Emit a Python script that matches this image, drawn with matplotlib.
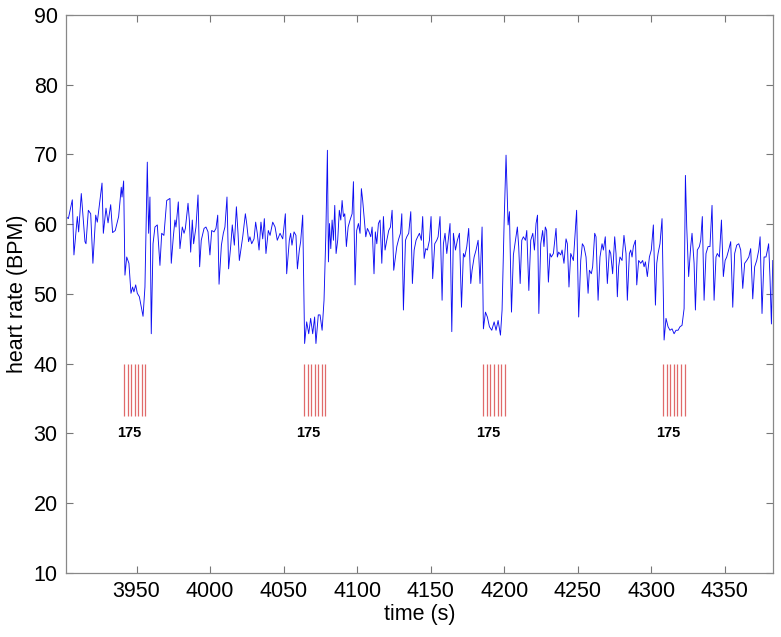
import numpy as np
import matplotlib
matplotlib.use("Agg")
import matplotlib.pyplot as plt

plt.rcParams['font.family'] = ['Liberation Sans', 'DejaVu Sans']

# heart rate trace (time in s, rate in BPM)
time_s = [
    3902.0, 3903.6, 3906.3, 3907.4, 3909.7, 3910.6, 3912.4, 3914.9, 3915.6, 3917.2,
    3918.8, 3920.3, 3922.2, 3923.3, 3926.5, 3927.4, 3929.2, 3930.6, 3932.4, 3933.7,
    3935.5, 3937.8, 3939.6, 3940.1, 3941.2, 3942.1, 3943.3, 3944.8, 3946.2, 3947.3,
    3948.2, 3949.4, 3950.5, 3951.9, 3954.4, 3955.7, 3957.3, 3958.2, 3959.1, 3960.0,
    3961.2, 3962.5, 3964.1, 3965.9, 3967.1, 3968.6, 3970.5, 3972.7, 3973.6, 3975.0,
    3976.1, 3976.8, 3978.4, 3979.5, 3981.1, 3982.3, 3983.2, 3985.0, 3985.9, 3986.8,
    3987.9, 3988.8, 3990.4, 3991.8, 3992.9, 3994.0, 3995.9, 3997.2, 3998.6, 3999.9,
    4001.1, 4002.7, 4004.0, 4005.2, 4006.1, 4007.7, 4009.0, 4010.1, 4011.5, 4012.6,
    4014.0, 4015.1, 4016.5, 4017.9, 4019.0, 4019.9, 4021.5, 4022.2, 4024.0, 4024.9,
    4026.2, 4027.1, 4028.3, 4029.9, 4031.0, 4032.1, 4033.3, 4034.6, 4035.8, 4036.9,
    4038.0, 4039.6, 4040.8, 4042.6, 4044.2, 4045.7, 4047.6, 4049.4, 4051.2, 4052.1,
    4053.9, 4054.8, 4055.7, 4057.1, 4058.4, 4059.4, 4060.7, 4061.6, 4063.0, 4064.3,
    4065.7, 4067.1, 4068.4, 4069.8, 4071.1, 4072.0, 4073.6, 4074.8, 4076.2, 4077.5,
    4078.7, 4079.8, 4080.5, 4081.2, 4082.1, 4083.0, 4083.9, 4084.8, 4085.7, 4086.8,
    4087.9, 4088.9, 4089.8, 4090.7, 4091.6, 4092.7, 4093.9, 4095.2, 4096.6, 4097.5,
    4098.6, 4099.7, 4100.9, 4102.0, 4102.9, 4103.8, 4104.7, 4105.9, 4107.0, 4108.1,
    4109.3, 4110.2, 4111.5, 4112.4, 4113.4, 4114.5, 4115.6, 4116.8, 4117.9, 4119.0,
    4120.2, 4121.5, 4122.7, 4123.8, 4124.9, 4126.1, 4127.0, 4128.3, 4129.5, 4130.4,
    4131.5, 4132.9, 4133.8, 4135.1, 4136.5, 4137.6, 4138.8, 4140.1, 4141.2, 4142.4,
    4143.7, 4144.6, 4145.6, 4146.7, 4147.8, 4149.2, 4150.3, 4151.4, 4152.8, 4154.2,
    4155.1, 4156.4, 4157.8, 4158.7, 4159.8, 4161.0, 4162.1, 4163.2, 4164.4, 4165.5,
    4166.9, 4168.2, 4169.6, 4171.0, 4172.3, 4173.2, 4174.6, 4175.9, 4177.3, 4178.2,
    4179.6, 4180.9, 4182.3, 4183.6, 4185.0, 4185.9, 4187.3, 4188.6, 4190.0, 4191.6,
    4193.2, 4194.5, 4195.9, 4197.5, 4198.6, 4200.0, 4201.3, 4202.7, 4203.6, 4205.0,
    4206.3, 4207.7, 4209.0, 4209.9, 4210.9, 4212.0, 4213.1, 4214.5, 4215.4, 4216.8,
    4218.1, 4219.5, 4220.6, 4221.7, 4222.7, 4223.6, 4224.9, 4226.2, 4227.1, 4228.0,
    4228.9, 4230.1, 4231.2, 4232.1, 4233.5, 4235.3, 4236.2, 4237.1, 4238.5, 4239.4,
    4240.7, 4242.1, 4243.0, 4244.1, 4245.3, 4246.2, 4247.1, 4248.0, 4249.3, 4250.7,
    4252.1, 4253.2, 4254.3, 4255.7, 4257.1, 4258.0, 4259.3, 4260.2, 4261.6, 4262.5,
    4263.9, 4265.2, 4266.6, 4267.5, 4268.8, 4270.2, 4271.6, 4272.5, 4273.8, 4275.2,
    4276.1, 4277.0, 4277.9, 4278.8, 4280.2, 4281.5, 4282.9, 4283.8, 4285.2, 4286.1,
    4287.0, 4287.9, 4289.3, 4290.2, 4291.5, 4292.9, 4294.2, 4295.2, 4296.1, 4297.4,
    4298.8, 4300.1, 4301.5, 4302.9, 4303.8, 4304.7, 4306.0, 4307.4, 4308.8, 4310.1,
    4311.5, 4312.8, 4314.2, 4315.6, 4316.9, 4318.3, 4319.6, 4321.0, 4322.4, 4323.3,
    4324.2, 4325.5, 4326.9, 4327.8, 4329.2, 4330.1, 4331.4, 4332.8, 4333.7, 4334.8,
    4336.0, 4337.3, 4338.7, 4340.0, 4341.4, 4342.8, 4344.1, 4345.0, 4346.4, 4347.8,
    4349.1, 4350.3, 4351.4, 4352.7, 4354.1, 4355.5, 4356.8, 4358.2, 4359.6, 4360.9,
    4362.3, 4363.6, 4365.0, 4366.4, 4367.7, 4369.1, 4370.4, 4371.8, 4373.2, 4374.1,
    4375.4, 4376.8, 4378.1, 4379.1, 4379.9, 4380.8, 4381.8, 4382.7,
]
heart_rate = [
    61.1, 60.8, 63.5, 55.6, 61.1, 58.9, 64.4, 57.5, 57.2, 62.0,
    61.5, 54.4, 61.3, 60.3, 65.9, 58.7, 62.3, 60.2, 62.8, 58.8,
    59.1, 61.1, 65.3, 63.9, 66.2, 52.7, 55.3, 54.4, 50.1, 51.0,
    50.3, 51.3, 50.1, 49.6, 46.8, 51.0, 68.9, 58.7, 63.9, 44.3,
    57.2, 59.6, 59.9, 54.1, 58.7, 58.4, 63.4, 63.7, 54.4, 58.2,
    60.6, 59.6, 63.2, 56.5, 59.6, 58.7, 59.4, 63.0, 60.6, 56.0,
    60.6, 57.2, 59.6, 64.2, 53.9, 57.7, 59.4, 59.6, 58.9, 55.6,
    59.1, 58.9, 59.4, 61.3, 51.4, 57.0, 58.7, 59.6, 63.9, 53.6,
    56.8, 59.9, 57.0, 62.5, 58.7, 54.8, 57.2, 58.2, 61.5, 60.1,
    57.5, 58.2, 57.2, 57.9, 60.3, 58.7, 56.3, 60.3, 57.9, 60.8,
    55.8, 59.1, 58.4, 60.3, 59.6, 57.7, 58.7, 57.9, 61.5, 52.9,
    57.7, 58.7, 57.0, 58.9, 58.4, 53.6, 56.3, 57.5, 61.3, 42.9,
    46.0, 44.3, 46.5, 44.3, 46.7, 42.9, 47.0, 47.0, 44.8, 49.1,
    58.2, 70.6, 54.6, 60.1, 56.5, 60.6, 57.7, 62.7, 55.8, 57.7,
    62.0, 60.6, 63.4, 61.1, 61.5, 56.8, 59.6, 60.6, 61.5, 66.1,
    51.3, 59.1, 60.1, 58.7, 65.1, 63.4, 61.1, 58.2, 59.4, 58.9,
    58.2, 59.6, 52.9, 58.9, 57.2, 60.1, 60.6, 54.4, 61.1, 56.3,
    57.7, 59.1, 59.6, 62.0, 53.4, 55.3, 56.8, 57.9, 58.7, 61.5,
    47.7, 57.7, 58.2, 58.7, 61.8, 51.5, 56.3, 57.7, 58.2, 58.7,
    57.7, 61.1, 55.1, 56.5, 56.3, 57.7, 61.1, 52.2, 57.2, 57.7,
    58.2, 61.1, 49.1, 57.2, 58.7, 55.8, 57.9, 60.1, 44.6, 58.7,
    56.3, 57.7, 58.7, 48.1, 55.8, 55.3, 56.8, 59.4, 51.5, 53.4,
    55.3, 56.3, 57.7, 51.5, 59.6, 45.0, 47.4, 46.7, 45.3, 44.8,
    46.0, 44.8, 46.2, 44.1, 47.7, 60.3, 69.9, 59.9, 61.8, 47.4,
    55.6, 57.7, 59.6, 56.8, 51.5, 57.7, 58.2, 57.7, 59.1, 50.5,
    57.7, 58.7, 56.3, 60.1, 61.3, 47.2, 57.2, 59.1, 56.8, 59.6,
    59.1, 51.7, 55.8, 55.3, 55.8, 59.4, 55.3, 56.0, 55.6, 56.3,
    54.4, 57.9, 57.2, 51.0, 55.8, 55.3, 54.8, 57.7, 62.0, 46.7,
    54.8, 57.2, 56.8, 55.3, 50.1, 53.4, 52.9, 53.9, 58.7, 58.2,
    49.1, 55.3, 57.2, 56.3, 58.2, 51.5, 56.3, 55.8, 52.9, 58.2,
    55.8, 49.6, 53.9, 55.3, 54.8, 58.4, 55.8, 49.1, 55.8, 56.3,
    55.3, 56.8, 57.7, 51.3, 54.8, 54.4, 54.8, 53.9, 54.6, 52.5,
    55.3, 56.3, 59.9, 48.4, 54.4, 55.8, 57.2, 60.8, 43.4, 46.5,
    45.3, 44.8, 45.0, 44.3, 44.8, 44.8, 45.3, 45.5, 47.9, 67.0,
    59.6, 52.5, 56.8, 58.7, 54.4, 47.7, 56.3, 56.8, 57.7, 61.1,
    49.1, 55.8, 56.8, 56.8, 62.7, 49.1, 55.3, 55.8, 55.3, 60.6,
    52.5, 54.8, 55.3, 56.3, 57.5, 48.1, 55.8, 57.0, 57.2, 56.3,
    50.8, 54.4, 54.8, 55.3, 56.5, 49.3, 53.9, 54.8, 56.3, 58.2,
    47.2, 55.3, 55.3, 56.3, 57.2, 52.5, 45.7, 54.8,
]

# stimulus trains: start of each train, 7 pulses
train_starts = [3941.5, 4063.9, 4185.9, 4308.3]
pulse_step = 2.4
n_pulses = 7
train_label = "175"

xticks = [3950, 4000, 4050, 4100, 4150, 4200, 4250, 4300, 4350]
yticks = [10, 20, 30, 40, 50, 60, 70, 80, 90]

fig = plt.figure(figsize=(7.81, 6.37), dpi=100)
ax = fig.add_axes([0.0845, 0.1005, 0.9055, 0.876])

ax.plot(time_s, heart_rate, color=(0.05, 0.05, 0.95), lw=0.65)

for t0 in train_starts:
    pulses = t0 + pulse_step * np.arange(n_pulses)
    ax.vlines(pulses, 32.5, 40, colors='#e06a6a', lw=0.9)
    ax.text(t0 + 3.2, 30, train_label, ha='center', va='center',
            fontsize=10.5, fontweight='bold')

ax.set_xlim(3902, 4383)
ax.set_ylim(10, 90)
ax.set_xticks(xticks)
ax.set_yticks(yticks)
ax.tick_params(direction='in', length=5, width=0.8, color='#777777',
               labelsize=15.5, top=True, right=True, pad=6)
for sp in ax.spines.values():
    sp.set_color('#888888')
    sp.set_linewidth(0.9)

ax.set_xlabel("time (s)", fontsize=15.5, labelpad=1)
ax.set_ylabel("heart rate (BPM)", fontsize=15.5, labelpad=4)

fig.savefig("out.png", dpi=100)
